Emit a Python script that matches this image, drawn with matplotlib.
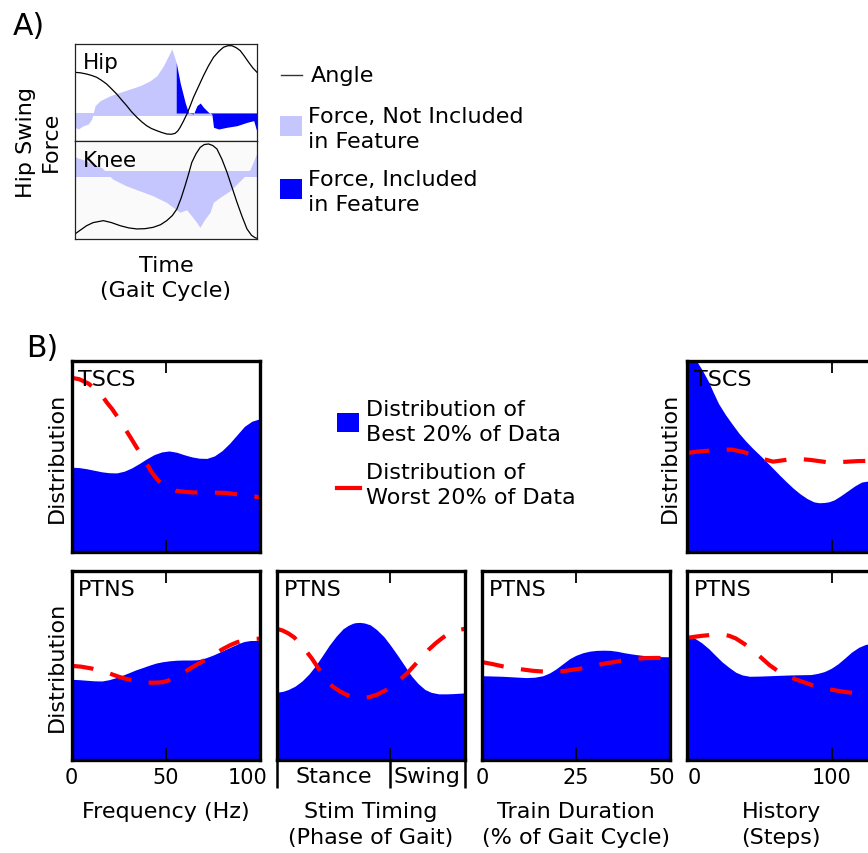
import numpy as np
import matplotlib
matplotlib.use("Agg")
import matplotlib.pyplot as plt
import matplotlib.transforms as mtrans
from matplotlib.patches import Rectangle
from matplotlib.lines import Line2D

# ------------------------------------------------------------------ data
# Panel A : gait cycle (%) vs hip-swing force and joint angle (arb. units)
hip_force_x = [0, 1.8, 4.6, 7.3, 9.2, 11, 13.8, 19.3, 24.8, 30.3, 35.8, 41.3, 45,
               48.6, 51.4, 53.2, 55.6, 57.8, 60.6, 62.4, 65.1, 67, 68.8, 70.6,
               73.4, 75.2, 76.1, 78.9, 83.5, 89, 94.5, 98.2, 100]
hip_force = [-15, -16.8, -13.3, -11.6, -6.3, 7.7, 13, 18.2, 21.8, 25.3, 28.8, 34,
             39.3, 49.8, 60.4, 67.4, 53.3, 31.6, 10.5, 0, -1, 7.7, 10.5, 6, 0.7,
             -1, -15, -16.8, -15, -13.3, -9.8, -8, -20]
hip_feature_start = 55.6
hip_angle_x = [0, 3, 6.4, 9, 11.9, 14.5, 17.4, 20, 22.9, 25.6, 28.4, 31, 34, 36.7,
               39.4, 42, 45, 47.7, 50.5, 53, 55, 56.5, 57.8, 59.6, 61.5, 63.3,
               65.1, 68, 70.6, 73.3, 76.1, 79, 81.6, 84, 86.2, 88.5, 90.8, 93,
               95.4, 97.7, 100]
hip_angle = [42.8, 42.3, 41, 39.6, 37.6, 34.5, 30.5, 25.6, 20, 13.8, 7.7, 1.5,
             -4.5, -9.3, -13.4, -16.3, -18.6, -20.5, -22.1, -22.3, -21.4, -18.8,
             -15, -8.5, -1, 7.5, 16.5, 28.5, 39.3, 49.5, 58.6, 64.8, 69.2, 70.8,
             70.8, 68.8, 65.6, 60, 53.4, 47.5, 42.8]

knee_force_x = [0, 5, 10, 15, 18, 20.7, 28, 35.4, 42.8, 50.2, 53.9, 57.6, 61.3, 64,
                66.8, 68.6, 71.4, 74.2, 76, 79.7, 85.2, 90.8, 93.5, 96.3, 100]
knee_force = [17.6, 14.5, 10.4, 6.2, 0, -5.2, -12.1, -17.3, -22.5, -29.3, -34.5,
              -39.6, -37, -43.2, -50, -55.2, -46.6, -39.6, -29.3, -24.1, -17.3,
              -6.9, -1.8, 5.2, 22]
knee_angle_x = [0, 3, 6.4, 10, 15.6, 20, 24.8, 29.5, 34, 38.5, 43, 47, 50.4, 53.5,
                56, 58.3, 60.5, 62.4, 64.2, 66.5, 68.8, 71, 73.4, 75.7, 78, 80.8,
                83.5, 86.3, 89, 91.8, 94.5, 97, 99, 100]
knee_angle = [-62.1, -58, -53.5, -50.3, -48.3, -50.3, -53.5, -55.8, -56.9, -56.6,
              -55.2, -52.5, -48.3, -43, -36.2, -25, -12.1, 0, 12.1, 21, 27.6, 30.5,
              31.1, 29.5, 25.9, 15, 1.8, -14, -29.3, -44, -56.9, -63.5, -66, -66.5]

# Panel B : distributions (best 20 % filled, worst 20 % dashed)
freq_tscs_x = [0, 4, 8, 12, 16, 20, 24, 28, 32, 36, 40, 44, 48, 52, 56, 60, 64, 68,
               72, 76, 80, 84, 88, 92, 96, 100]
freq_tscs_best = [0.444, 0.442, 0.436, 0.428, 0.420, 0.415, 0.414, 0.423, 0.440,
                  0.463, 0.488, 0.510, 0.524, 0.529, 0.522, 0.509, 0.498, 0.491,
                  0.490, 0.503, 0.530, 0.568, 0.613, 0.658, 0.685, 0.697]
freq_tscs_wx = [0, 4, 9, 13, 16.1, 19, 21.5, 25, 28.6, 32, 35.8, 39.5, 42.9, 46.5,
                50.1, 53, 55.5, 60, 64.4, 73.3, 82.3, 88, 93, 100]
freq_tscs_worst = [0.912, 0.905, 0.882, 0.85, 0.820, 0.78, 0.75, 0.70, 0.644, 0.59,
                   0.529, 0.47, 0.414, 0.37, 0.344, 0.330, 0.321, 0.315, 0.312,
                   0.312, 0.309, 0.302, 0.295, 0.287]

freq_ptns_x = [0, 4, 8, 12, 16.2, 20, 23.4, 27, 30.6, 34, 37.8, 41.5, 45, 48.5,
               52.3, 56, 59.5, 63, 66.7, 69.5, 72.1, 75.5, 79.3, 83, 86.5, 89,
               91.9, 95, 100]
freq_ptns_best = [0.427, 0.425, 0.422, 0.419, 0.418, 0.425, 0.435, 0.448, 0.462,
                  0.476, 0.489, 0.502, 0.513, 0.520, 0.525, 0.528, 0.529, 0.529,
                  0.530, 0.535, 0.543, 0.556, 0.573, 0.590, 0.606, 0.617, 0.627,
                  0.632, 0.633]
freq_ptns_wx = [0, 5, 10.8, 16, 21.6, 25, 28.8, 32.5, 36, 40, 43.2, 46, 48.6, 52,
                55.9, 59.5, 63.1, 66.7, 70.3, 74, 77.5, 81, 84.7, 88, 91.9, 96, 100]
freq_ptns_worst = [0.498, 0.494, 0.484, 0.470, 0.453, 0.441, 0.430, 0.421, 0.414,
                   0.410, 0.409, 0.410, 0.412, 0.422, 0.441, 0.461, 0.484, 0.505,
                   0.525, 0.547, 0.570, 0.590, 0.609, 0.623, 0.633, 0.640, 0.642]

stim_x = [0, 3, 6, 9.5, 13.3, 17, 20.5, 24, 27.8, 31.5, 35.1, 38, 40.5, 42, 44.2,
          46.5, 49.6, 53, 56.9, 60.5, 64.2, 68, 71.5, 75, 78.7, 82, 86, 90, 93.3,
          100]
stim_best = [0.359, 0.363, 0.373, 0.39, 0.418, 0.455, 0.499, 0.55, 0.607, 0.655,
             0.694, 0.713, 0.724, 0.727, 0.728, 0.725, 0.715, 0.69, 0.652, 0.605,
             0.553, 0.497, 0.445, 0.405, 0.373, 0.358, 0.350, 0.350, 0.351, 0.355]
stim_wx = [0, 3, 6, 9, 11.5, 15, 18.7, 22.5, 26, 29.5, 33.3, 37, 40.5, 43.5, 46,
           49.5, 53.3, 58, 62.4, 66, 69.6, 73.3, 76.9, 80.5, 84.2, 88, 91.5, 95.5,
           100]
stim_worst = [0.694, 0.685, 0.670, 0.65, 0.625, 0.583, 0.535, 0.478, 0.427, 0.390,
              0.364, 0.345, 0.333, 0.328, 0.328, 0.334, 0.346, 0.370, 0.400, 0.430,
              0.463, 0.503, 0.544, 0.582, 0.616, 0.646, 0.670, 0.686, 0.694]
stim_boundary = 60  # stance / swing transition (% of gait)

train_x = [0, 5.4, 9, 11.7, 14, 16.2, 18, 19.7, 21.5, 23.3, 25, 26.9, 28.7, 30.5,
           32.3, 34.1, 36, 37.7, 39.5, 41.3, 43, 44.9, 47.5, 50]
train_best = [0.446, 0.443, 0.439, 0.436, 0.438, 0.446, 0.461, 0.482, 0.509, 0.536,
              0.554, 0.568, 0.576, 0.580, 0.581, 0.580, 0.575, 0.568, 0.562, 0.557,
              0.553, 0.55, 0.547, 0.546]
train_wx = [0, 2.7, 5.4, 8, 10.8, 13.5, 16.2, 19, 21.5, 24, 26.9, 29.5, 32.3, 35,
            37.7, 40.5, 43.1, 46.5, 50]
train_worst = [0.518, 0.508, 0.496, 0.487, 0.479, 0.472, 0.468, 0.468, 0.470, 0.477,
               0.486, 0.497, 0.509, 0.518, 0.527, 0.534, 0.539, 0.540, 0.539]

hist_ptns_x = [0, 2.5, 5.4, 10, 14.8, 19.5, 24.2, 29, 33.6, 38, 43.1, 50, 57.2, 64,
               71.3, 78, 85.4, 90, 94.8, 99.5, 104.2, 109, 113.6, 118.5, 123.1,
               126.4, 130]
hist_ptns_best = [0.652, 0.650, 0.643, 0.620, 0.589, 0.553, 0.518, 0.489, 0.464,
                  0.450, 0.443, 0.444, 0.446, 0.448, 0.45, 0.451, 0.452, 0.458,
                  0.468, 0.485, 0.509, 0.540, 0.571, 0.596, 0.611, 0.616, 0.62]
hist_ptns_wx = [0, 5, 10.1, 17, 24.2, 29, 33.6, 39.5, 45.4, 51.3, 57.2, 63, 68.9,
                74.8, 80.7, 86.5, 92.5, 98.3, 104.2, 110, 116, 121, 126.4, 130]
hist_ptns_worst = [0.646, 0.652, 0.657, 0.662, 0.664, 0.657, 0.643, 0.614, 0.580,
                   0.540, 0.5, 0.469, 0.446, 0.427, 0.411, 0.396, 0.384, 0.374,
                   0.366, 0.359, 0.354, 0.350, 0.348, 0.347]

hist_tscs_x = [0, 6.4, 10.5, 14.6, 18, 21.6, 26.3, 31, 35.7, 40.5, 45.2, 49.9, 54.6,
               59.3, 64, 68.7, 73.4, 78.1, 82.8, 87.5, 91, 94.6, 98, 101.6, 106,
               111.1, 116, 120.5, 123.5, 126.1, 130]
hist_tscs_best = [1.05, 1.0, 0.95, 0.893, 0.835, 0.777, 0.72, 0.670, 0.622, 0.580,
                  0.543, 0.509, 0.474, 0.4375, 0.401, 0.366, 0.333, 0.304, 0.280,
                  0.2625, 0.258, 0.259, 0.263, 0.273, 0.294, 0.321, 0.347, 0.366,
                  0.370, 0.372, 0.375]
hist_tscs_wx = [0, 7, 14.6, 22, 31, 38, 45.2, 52, 59.3, 66, 73.4, 79, 85.2, 91,
                96.9, 104, 111.1, 118, 126.1, 130]
hist_tscs_worst = [0.518, 0.526, 0.530, 0.536, 0.536, 0.525, 0.509, 0.488, 0.473,
                   0.480, 0.4875, 0.486, 0.482, 0.476, 0.470, 0.470, 0.473, 0.476,
                   0.477, 0.477]

# ------------------------------------------------------------------ style
W, H, DPI = 868, 854, 100
BLUE = "#0000ff"
LIGHT = "#c6c6ff"
RED = "#ff0000"
FS = 16

fig = plt.figure(figsize=(W / DPI, H / DPI), dpi=DPI)


def box(l, t, r, b):
    return [l / W, 1 - b / H, (r - l) / W, (b - t) / H]


def fx(px):
    return px / W


def fy(py):
    return 1 - py / H


def shift_px(text, dx):
    text.set_transform(text.get_transform() +
                       mtrans.ScaledTranslation(dx / DPI, 0, fig.dpi_scale_trans))


# ------------------------------------------------------------------ Panel A
fig.text(fx(13), fy(35), "A)", fontsize=21.5, va="baseline", ha="left")

axh = fig.add_axes(box(75, 45, 257, 141.5))
axk = fig.add_axes(box(75, 141.5, 257, 240))
for ax in (axh, axk):
    ax.set_xlim(0, 100)
    ax.set_xticks([])
    ax.set_yticks([])
    for s in ax.spines.values():
        s.set_linewidth(0.9)
        s.set_color("#222222")
axk.set_facecolor("#fafafa")

hx = np.array(hip_force_x)
hf = np.array(hip_force)
axh.axhspan(-3.5, 0, color=LIGHT, lw=0)
axh.fill_between(hx, hf, 0, where=hx <= hip_feature_start, color=LIGHT, lw=0)
axh.fill_between(hx, hf, 0, where=hx >= hip_feature_start, color=BLUE, lw=0)
axh.plot(hip_angle_x, hip_angle, color="black", lw=0.9)
axh.set_ylim(-28.9, 72.6)
axh.text(0.042, 0.75, "Hip", transform=axh.transAxes, fontsize=15.5, va="baseline")

axk.axhspan(-3.5, 3.5, color=LIGHT, lw=0)
axk.fill_between(knee_force_x, knee_force, 0, color=LIGHT, lw=0)
axk.plot(knee_angle_x, knee_angle, color="black", lw=0.9)
axk.set_ylim(-67.3, 34.7)
axk.text(0.042, 0.745, "Knee", transform=axk.transAxes, fontsize=15.5, va="baseline")

fig.text(fx(38.5), fy(142), "Hip Swing\nForce", rotation=90, ha="center",
         va="center", fontsize=FS, linespacing=1.33)
fig.text(fx(166), fy(255.8), "Time\n(Gait Cycle)", ha="center", va="top",
         fontsize=FS, linespacing=1.33)

# legend A
fig.add_artist(Line2D([fx(281), fx(302)], [fy(75.5), fy(75.5)], color="#333333",
                      lw=1, transform=fig.transFigure))
fig.text(fx(311), fy(65.8), "Angle", fontsize=FS, va="top")
fig.add_artist(Rectangle((fx(280), fy(137.3)), 22.3 / W, 20 / H, color=LIGHT,
                         lw=0, transform=fig.transFigure))
fig.text(fx(308.5), fy(107.1), "Force, Not Included\nin Feature", fontsize=FS,
         va="top", linespacing=1.33)
fig.add_artist(Rectangle((fx(280), fy(200)), 22.3 / W, 20 / H, color=BLUE,
                         lw=0, transform=fig.transFigure))
fig.text(fx(308.5), fy(169.8), "Force, Included\nin Feature", fontsize=FS,
         va="top", linespacing=1.33)

# ------------------------------------------------------------------ Panel B
fig.text(fx(26.5), fy(357.3), "B)", fontsize=21.5, va="baseline", ha="left")

PW = 188
lefts = [71.5, 277, 482, 687.3]
TOP = (362, 553)
BOT = (572, 761)


def dist_panel(col, row, xlim, bx, by, wx, wy, tag, ticks, labels):
    t, b = row
    ax = fig.add_axes(box(lefts[col], t, lefts[col] + PW, b))
    ax.fill_between(bx, by, 0, color=BLUE, lw=0)
    ax.plot(wx, wy, color=RED, lw=3, ls=(0, (5.3, 4.2)), dash_capstyle="butt")
    ax.set_xlim(*xlim)
    ax.set_ylim(0, 1)
    ax.set_yticks([])
    for s in ax.spines.values():
        s.set_linewidth(2.4)
    ax.set_xticks(ticks)
    if labels is not None:
        ax.set_xticklabels(labels)
    ax.tick_params(axis="x", direction="in", length=8.6, width=1.3, top=True,
                   bottom=True, labelsize=15, pad=4.7,
                   labelbottom=labels is not None)
    ax.text(0.035, 1 - 24.5 / (b - t), tag, transform=ax.transAxes,
            fontsize=FS, va="baseline")
    return ax


a_tf = dist_panel(0, TOP, (0, 100), freq_tscs_x, freq_tscs_best, freq_tscs_wx,
                  freq_tscs_worst, "TSCS", [0, 50, 100], None)
a_th = dist_panel(3, TOP, (0, 130), hist_tscs_x, hist_tscs_best, hist_tscs_wx,
                  hist_tscs_worst, "TSCS", [0, 100], None)
a_pf = dist_panel(0, BOT, (0, 100), freq_ptns_x, freq_ptns_best, freq_ptns_wx,
                  freq_ptns_worst, "PTNS", [0, 50, 100], ["0", "50", "100"])
a_ps = dist_panel(1, BOT, (0, 100), stim_x, stim_best, stim_wx, stim_worst,
                  "PTNS", [stim_boundary], None)
a_pt = dist_panel(2, BOT, (0, 50), train_x, train_best, train_wx, train_worst,
                  "PTNS", [0, 25, 50], ["0", "25", "50"])
a_ph = dist_panel(3, BOT, (0, 130), hist_ptns_x, hist_ptns_best, hist_ptns_wx,
                  hist_ptns_worst, "PTNS", [0, 100], ["0", "100"])

# stance / swing scale under the stim-timing panel
a_ps.xaxis.remove_overlapping_locs = False
a_ps.set_xticks([0, stim_boundary, 100], minor=True)
a_ps.tick_params(axis="x", which="minor", direction="out", length=20, width=1.8,
                 top=False, bottom=True, labelbottom=False)
blend = mtrans.blended_transform_factory(a_ps.transData, a_ps.transAxes)
a_ps.text(30, -0.118, "Stance", transform=blend, ha="center", va="baseline",
          fontsize=FS)
a_ps.text(80, -0.118, "Swing", transform=blend, ha="center", va="baseline",
          fontsize=FS)

# tick-label nudges
shift_px(a_pf.get_xticklabels()[2], -12)
shift_px(a_pt.get_xticklabels()[2], -8)
shift_px(a_ph.get_xticklabels()[0], 7)

# axis labels
for ax in (a_tf, a_pf):
    ax.set_ylabel("Distribution", fontsize=FS)
    ax.yaxis.set_label_coords(-0.026, 0.5)
a_th.set_ylabel("Distribution", fontsize=FS)
a_th.yaxis.set_label_coords(-0.039, 0.5)

for ax, lab in ((a_pf, "Frequency (Hz)"), (a_ps, "Stim Timing\n(Phase of Gait)"),
                (a_pt, "Train Duration\n(% of Gait Cycle)"),
                (a_ph, "History\n(Steps)")):
    ax.set_xlabel(lab, fontsize=FS, linespacing=1.33)
    ax.xaxis.set_label_coords(0.5, -0.219)

# legend B
fig.add_artist(Rectangle((fx(337.3), fy(433.3)), 22 / W, 19 / H, color=BLUE,
                         lw=0, transform=fig.transFigure))
fig.text(fx(366), fy(399.8), "Distribution of\nBest 20% of Data", fontsize=FS,
         va="top", linespacing=1.33)
fig.add_artist(Line2D([fx(337), fx(360)], [fy(488.7), fy(488.7)], color=RED,
                      lw=3, transform=fig.transFigure))
fig.text(fx(366), fy(463.1), "Distribution of\nWorst 20% of Data", fontsize=FS,
         va="top", linespacing=1.33)

fig.savefig("out.png", dpi=DPI)
